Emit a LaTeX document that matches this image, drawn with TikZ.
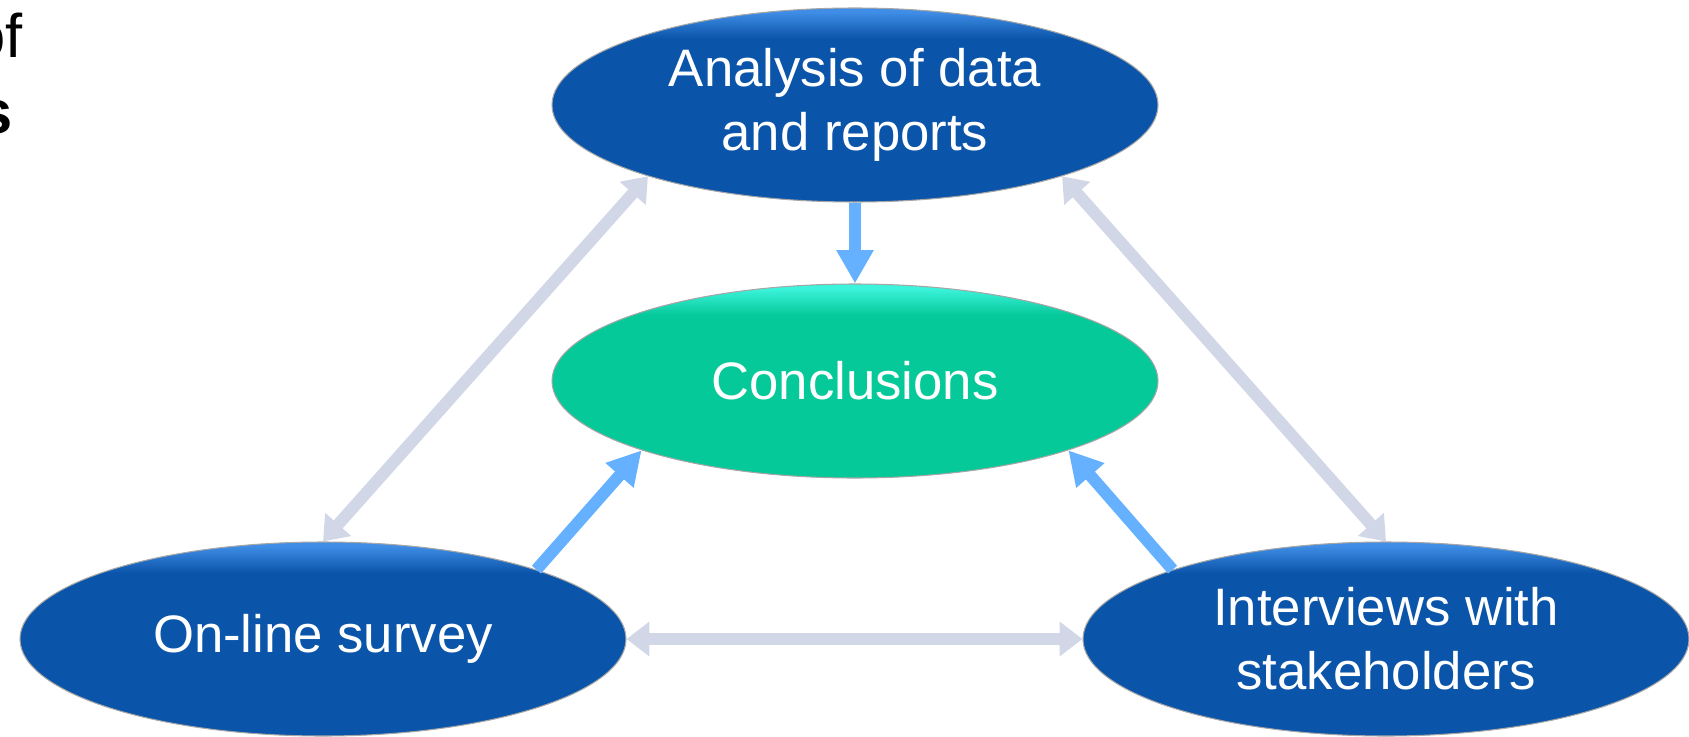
\documentclass[tikz,border=0pt]{standalone}
\usepackage{fontspec}
\setmainfont{Liberation Sans}
\usetikzlibrary{shapes.geometric,arrows.meta}

\definecolor{ovalblue}{HTML}{0A54A9}
\definecolor{ovalbluetop}{HTML}{3F8DE6}
\definecolor{ovalgreen}{HTML}{06C99A}
\definecolor{ovalgreentop}{HTML}{3CF4DC}
\definecolor{linkgray}{HTML}{D2D7E8}
\definecolor{linkblue}{HTML}{66B1FF}

% lighter rim along the top of each oval
\pgfdeclareverticalshading{bluerim}{100bp}{color(0bp)=(ovalblue); color(67bp)=(ovalblue); color(74bp)=(ovalbluetop); color(100bp)=(ovalbluetop)}
\pgfdeclareverticalshading{greenrim}{100bp}{color(0bp)=(ovalgreen); color(67bp)=(ovalgreen); color(74bp)=(ovalgreentop); color(100bp)=(ovalgreentop)}

\begin{document}
\begin{tikzpicture}[
    oval/.style={ellipse, draw=black!35, line width=0.6pt, inner sep=0pt,
      minimum width=12.12cm, minimum height=3.88cm, text=white, align=center,
      font=\fontsize{30}{36.5}\selectfont},
    method/.style={oval, shading=bluerim},
    result/.style={oval, shading=greenrim},
    grayline/.style={draw=linkgray, line width=6.8pt,
      {Triangle[length=13pt,width=19pt]}-{Triangle[length=13pt,width=19pt]}},
    blueline/.style={draw=linkblue, line width=6.8pt,
      -{Triangle[length=19pt,width=20pt]}}]
    \useasboundingbox (0,0) rectangle (33.78,-14.72);

    % Cut-off title
    \node[anchor=base east, font=\fontsize{35}{42}\selectfont] (titleof) at (0.58,-1.14) {of};
    \node[anchor=base east, font=\fontsize{35}{42}\selectfont\bfseries] (titles) at (0.38,-2.66) {s};

    % Ovals
    \node[method] (analysis) at (17.10,-2.10) {Analysis of data\\and reports};
    \node[result] (concl) at (17.10,-7.62) {Conclusions};
    \node[method] (survey) at (6.46,-12.78) {On-line survey};
    \node[method] (interv) at (27.72,-12.78) {Interviews with\\stakeholders};

    % Links between the sources
    \draw[grayline] (analysis.199) -- (survey.90);
    \draw[grayline] (analysis.-19) -- (interv.90);
    \draw[grayline] (survey.east) -- (interv.west);

    % Links into the conclusions
    \draw[blueline] (analysis.south) -- (concl.north);
    \draw[blueline] (survey.18) -- (concl.198);
    \draw[blueline] (interv.162) -- (concl.-18);
\end{tikzpicture}
\end{document}
